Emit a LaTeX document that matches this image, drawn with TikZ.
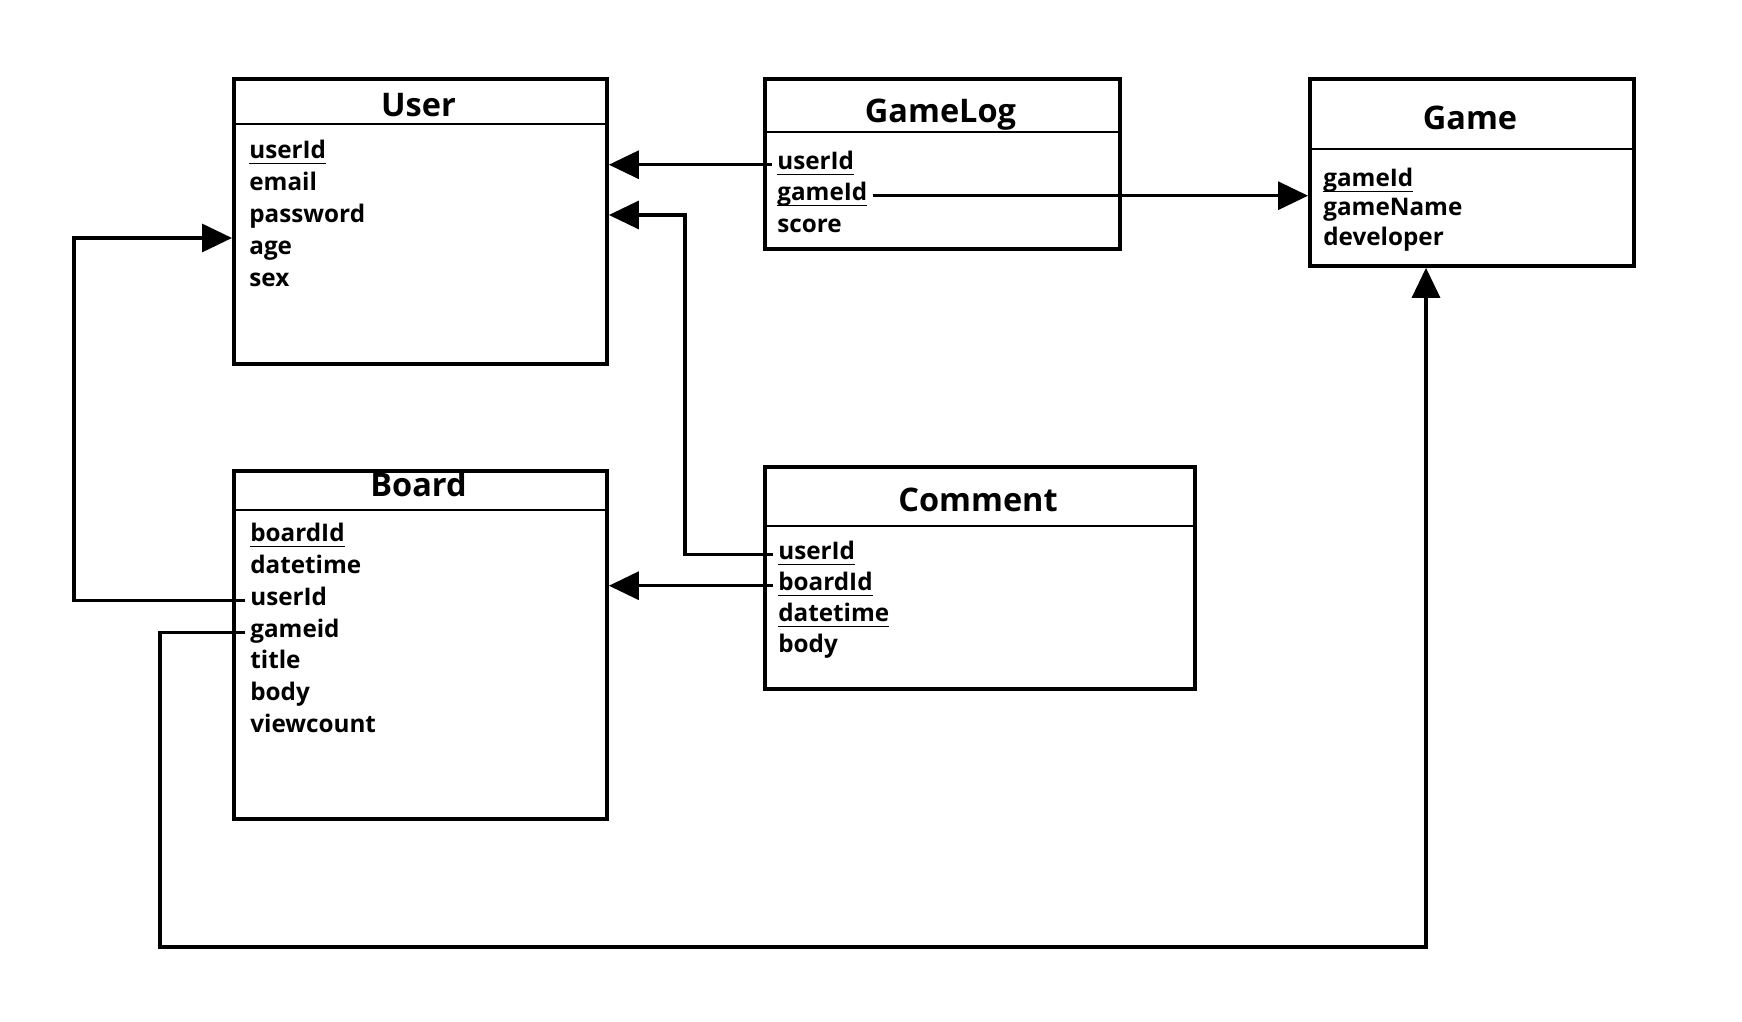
\documentclass[tikz,border=0pt]{standalone}
\usepackage{fontspec}
\setmainfont{Open Sans}
\usepackage{tikz}
\usetikzlibrary{arrows.meta}
\usetikzlibrary{calc}
\newcommand{\keyf}[1]{\setbox0\hbox{#1}\rlap{\rule[-0.22em]{\wd0}{0.07em}}\box0}

\begin{document}
\begin{tikzpicture}
  [box/.style={rectangle,draw=black,line width=2.2pt,anchor=north west,inner sep=0pt},
  title/.style={anchor=base,inner sep=0pt,font=\fontsize{18.5}{22}\selectfont\bfseries},
  field/.style={anchor=base west,inner xsep=0.1cm,inner ysep=0pt,text height=0.65em,text depth=0.05em,font=\fontsize{13.8}{16}\selectfont\bfseries},
  sep/.style={line width=1.5pt},
  arr/.style={black,line width=1.9pt,-{Triangle[length=0.6cm,width=0.56cm]}}]
  \useasboundingbox (0,0) rectangle (34.84,20.44);

  % User
  \node[box,minimum width=7.46cm,minimum height=5.70cm] (u) at (4.64,18.90) {};
  \draw [sep] (4.64,17.96) -- (12.10,17.96);
  \node[title] (u0) at (8.37,18.10) {User};
  \node[field] (u1) at (4.88,17.26) {\keyf{userId}};
  \node[field] (u2) at (4.88,16.62) {email};
  \node[field] (u3) at (4.88,15.98) {password};
  \node[field] (u4) at (4.88,15.34) {age};
  \node[field] (u5) at (4.88,14.70) {sex};

  % GameLog
  \node[box,minimum width=7.10cm,minimum height=3.40cm] (l) at (15.26,18.90) {};
  \draw [sep] (15.26,17.80) -- (22.36,17.80);
  \node[title] (l0) at (18.81,17.98) {GameLog};
  \node[field] (l1) at (15.44,17.04) {\keyf{userId}};
  \node[field] (l2) at (15.44,16.42) {\keyf{gameId}};
  \node[field] (l3) at (15.44,15.78) {score};

  % Game
  \node[box,minimum width=6.48cm,minimum height=3.74cm] (g) at (26.16,18.90) {};
  \draw [sep] (26.16,17.46) -- (32.64,17.46);
  \node[title] (g0) at (29.40,17.84) {Game};
  \node[field] (g1) at (26.36,16.70) {\keyf{gameId}};
  \node[field] (g2) at (26.36,16.12) {gameName};
  \node[field] (g3) at (26.36,15.52) {developer};

  % Board
  \node[box,minimum width=7.46cm,minimum height=6.96cm] (b) at (4.64,11.06) {};
  \draw [sep] (4.64,10.24) -- (12.10,10.24);
  \node[title] (b0) at (8.37,10.50) {Board};
  \node[field] (b1) at (4.90,9.60) {\keyf{boardId}};
  \node[field] (b2) at (4.90,8.96) {datetime};
  \node[field] (b3) at (4.90,8.33) {userId};
  \node[field] (b4) at (4.90,7.69) {gameid};
  \node[field] (b5) at (4.90,7.06) {title};
  \node[field] (b6) at (4.90,6.42) {body};
  \node[field] (b7) at (4.90,5.78) {viewcount};

  % Comment
  \node[box,minimum width=8.60cm,minimum height=4.44cm] (c) at (15.26,11.14) {};
  \draw [sep] (15.26,9.92) -- (23.86,9.92);
  \node[title] (c0) at (19.56,10.20) {Comment};
  \node[field] (c1) at (15.46,9.24) {\keyf{userId}};
  \node[field] (c2) at (15.46,8.62) {\keyf{boardId}};
  \node[field] (c3) at (15.46,8.00) {\keyf{datetime}};
  \node[field] (c4) at (15.46,7.38) {body};

  % corners
  \coordinate (p1) at (1.48,15.68);
  \coordinate (p2) at (3.20,1.50);
  \coordinate (p3) at (28.52,1.50);
  \coordinate (p4) at (13.70,16.14);

  \draw [arr] (l1.west) -- (l1.west -| u.east);
  \draw [arr] (l2.east) -- (l2.east -| g.west);
  \draw [arr] (b3.west) -| (p1) -- (p1 -| u.west);
  \draw [arr] (b4.west) -| (p2) -- (p3) -- (p3 |- g.south);
  \draw [arr] (c1.west) -| (p4) -- (p4 -| u.east);
  \draw [arr] (c2.west) -- (c2.west -| b.east);
\end{tikzpicture}
\end{document}
